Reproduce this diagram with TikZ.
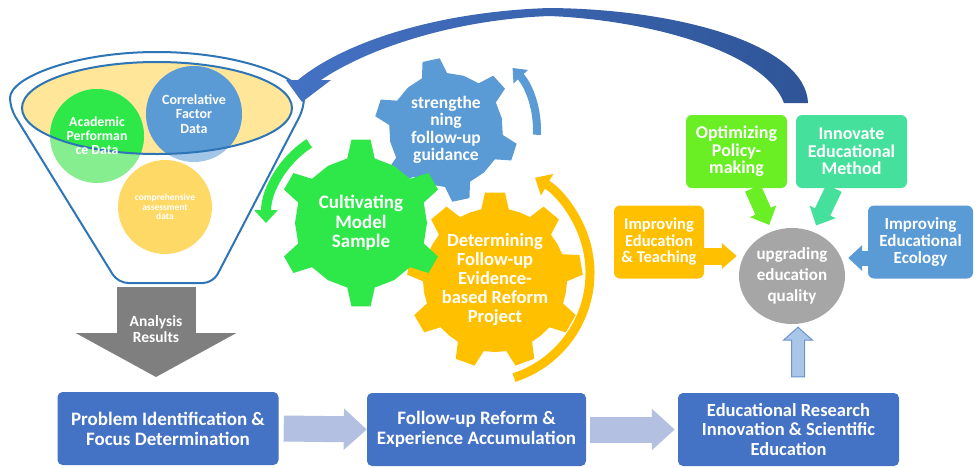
\documentclass[tikz,border=0pt]{standalone}
\usepackage{fontspec}
\setmainfont{Carlito}
\usepackage{xcolor}
\usepackage{tikz}
\usetikzlibrary{calc}
\usetikzlibrary{arrows.meta}
\usetikzlibrary{shapes.geometric}
\definecolor{boxblue}{HTML}{4472C4}
\definecolor{flowblue}{HTML}{B4C0E2}
\definecolor{darkblue}{HTML}{2F5597}
\definecolor{funnelline}{HTML}{2E75B6}
\definecolor{funnelfill}{HTML}{FFE699}
\definecolor{acadgreen}{HTML}{2EE84A}
\definecolor{acadlight}{HTML}{86EE8E}
\definecolor{corrblue}{HTML}{5B9BD5}
\definecolor{corrlight}{HTML}{A2C6E8}
\definecolor{compyellow}{HTML}{FFD966}
\definecolor{resultgray}{HTML}{7F7F7F}
\definecolor{gearblue}{HTML}{5B9BD5}
\definecolor{geargreen}{HTML}{2EE84A}
\definecolor{gearorange}{HTML}{FFC000}
\definecolor{policygreen}{HTML}{6AEE24}
\definecolor{methodteal}{HTML}{45E09B}
\definecolor{qualgray}{HTML}{A6A6A6}
\definecolor{upfill}{HTML}{A9C5E8}
\definecolor{upline}{HTML}{6F93C8}
\tikzset{>=Triangle}
\newcommand{\cog}[8]{%
  \fill[#1] ($(#2)+({#6-#7}:#4pt)$)
    \foreach \k in {1,...,#3}{
      -- ($(#2)+({#6+(\k-1)*360/#3-#7}:#4pt)$)
      -- ($(#2)+({#6+(\k-1)*360/#3-#8}:#5pt)$)
      -- ($(#2)+({#6+(\k-1)*360/#3+#8}:#5pt)$)
      -- ($(#2)+({#6+(\k-1)*360/#3+#7}:#4pt)$)
      -- ($(#2)+({#6+(\k-0.5)*360/#3}:#4pt)$)
    } -- cycle;}

\begin{document}
\begin{tikzpicture}[x=1pt,y=-1pt,
	every node/.style={text=white,align=center,inner sep=0pt},
	stepbox/.style={fill=boxblue,rounded corners=5pt,minimum width=221pt,minimum height=73pt,font=\fontsize{19}{20}\selectfont\bfseries},
	aimbox/.style={rounded corners=6pt,minimum height=73pt,font=\fontsize{18}{17.5}\selectfont\bfseries},
	geartext/.style={font=\fontsize{19}{19.5}\selectfont\bfseries},
	flow/.style={draw=flowblue,line width=26pt,-{Triangle[length=23pt,width=40pt]}},
	push/.style={line width=17pt,shorten >=7pt,-{Triangle[length=15pt,width=28pt]}}]
	\useasboundingbox (0,0) rectangle (977,467);

	\draw[funnelline,line width=2pt,fill=white,rounded corners=10pt] (10,108) arc[start angle=180,end angle=0,x radius=147pt,y radius=56pt] -- (213,283) -- (118,283) -- cycle;
	\fill[funnelfill] (157,108) ellipse[x radius=135pt,y radius=46pt];
	\node[circle,fill=acadlight,minimum size=94pt] (acad) at (97,136) {};
	\node[circle,fill=corrlight,minimum size=96pt] (corr) at (194,114) {};
	\node[circle,fill=compyellow,minimum size=94pt,font=\fontsize{9.5}{9.5}\selectfont\bfseries] (compre) at (165,207) {comprehensive\\assessment\\data};
	\begin{scope}
		\clip (157,108) ellipse[x radius=135pt,y radius=46pt];
		\fill[acadgreen] (acad) circle[radius=47pt];
		\fill[corrblue] (corr) circle[radius=48pt];
	\end{scope}
	\draw[funnelline,line width=2pt] (157,108) ellipse[x radius=135pt,y radius=46pt];
	\node[font=\fontsize{13.8}{14.2}\selectfont\bfseries] (acadtxt) at (acad) {Academic\\Performan\\ce Data};
	\node[font=\fontsize{14}{14.5}\selectfont\bfseries] (corrtxt) at (corr) {Correlative\\Factor\\Data};

	\coordinate (funnelbot) at (156,287);
	\coordinate (resultstip) at (156,377);
	\draw[resultgray,line width=79pt,-{Triangle[length=44pt,width=159pt]}] (funnelbot) -- (resultstip);
	\node[font=\fontsize{15.5}{16}\selectfont\bfseries] (results) at (156,329) {Analysis\\Results};

	\shade[left color=boxblue,right color=darkblue] (808,103) .. controls (806,45) and (680,9) .. (549,8) .. controls (430,12) and (340,45) .. (298,80) -- (286,80) -- (302,102) -- (331,80) -- (321,80) .. controls (365,50) and (450,20) .. (549,16) .. controls (650,20) and (765,52) .. (784,103) -- cycle;

	\coordinate (bluec) at (446,130);
	\coordinate (greenc) at (361,223);
	\coordinate (orangec) at (495,280);
	\coordinate (orbit) at (480,273);
	\cog{gearblue}{bluec}{6}{57}{72}{102}{13}{7}
	\cog{gearorange}{orangec}{9}{72}{88}{90}{11}{6.5}
	\cog{geargreen}{greenc}{6}{66}{84}{90}{12}{6.5}
	\draw[gearblue,line width=8pt,-{Triangle[length=12pt,width=19pt]}] ($(bluec)+(-3:91pt)$) arc[start angle=-3,end angle=43,radius=91pt];
	\draw[geargreen,line width=10pt,-{Triangle[length=13pt,width=23pt]}] ($(greenc)+(123:95pt)$) arc[start angle=123,end angle=180,radius=95pt];
	\draw[gearorange,line width=9pt,-{Triangle[length=14pt,width=24pt]}] ($(orbit)+(-72:110pt)$) arc[start angle=-72,end angle=60,radius=110pt];
	\node[geartext,font=\fontsize{17.5}{17.5}\selectfont\bfseries] (guidance) at (bluec) {strengthe\\ning\\follow-up\\guidance};
	\node[geartext] (cultivating) at (greenc) {Cultivating\\Model\\Sample};
	\node[geartext,font=\fontsize{18.5}{19}\selectfont\bfseries] (project) at (orangec) {Determining\\Follow-up\\Evidence-\\based Reform\\Project};

	\node[stepbox] (problem) at (168,428.5) {Problem Identification \&\\Focus Determination};
	\node[stepbox,minimum width=219pt] (reform) at (476.5,429.5) {Follow-up Reform \&\\Experience Accumulation};
	\node[stepbox,font=\fontsize{18.5}{19.5}\selectfont\bfseries] (research) at (788.5,429.5) {Educational Research\\Innovation \& Scientific\\Education};
	\draw[flow] ([xshift=5pt]problem.east) -- (reform.west);
	\draw[flow] ([xshift=4pt]reform.east) -- ([xshift=-3pt]research.west);

	\node[ellipse,fill=qualgray,minimum width=106pt,minimum height=96pt,font=\fontsize{17}{21}\selectfont\bfseries] (quality) at (792,276) {upgrading\\education\\quality};
	\node[aimbox,fill=gearorange,minimum width=90pt,font=\fontsize{16.5}{16.5}\selectfont\bfseries] (teaching) at (659,242) {Improving\\Education\\\& Teaching};
	\node[aimbox,fill=policygreen,minimum width=101pt] (policy) at (736.5,151.5) {Optimizing\\Policy-\\making};
	\node[aimbox,fill=methodteal,minimum width=111pt] (method) at (851.5,151.5) {Innovate\\Educational\\Method};
	\node[aimbox,fill=gearblue,minimum width=105pt,font=\fontsize{17}{17}\selectfont\bfseries] (ecology) at (920.5,242) {Improving\\Educational\\Ecology};
	\draw[push,policygreen] (policy) -- (quality);
	\draw[push,methodteal] (method) -- (quality);
	\draw[gearorange,line width=17pt,-{Triangle[length=15pt,width=25pt]}] ([yshift=-14pt]teaching.east) -- ([xshift=-2pt,yshift=20pt]quality.west);
	\draw[gearblue,line width=15pt,-{Triangle[length=14pt,width=25pt]}] ([yshift=-16pt]ecology.west) -- ([xshift=3pt,yshift=18pt]quality.east);

	\coordinate (uptip) at ([xshift=6pt,yshift=-3pt]quality.south);
	\coordinate (upbot) at ($(uptip |- research.north)+(0,-16)$);
	\filldraw[fill=upfill,draw=upline,line width=1pt] ($(upbot)+(-6.5,0)$) -- ($(uptip)+(-6.5,13)$) -- ($(uptip)+(-14.5,13)$) -- (uptip) -- ($(uptip)+(14.5,13)$) -- ($(uptip)+(6.5,13)$) -- ($(upbot)+(6.5,0)$) -- cycle;
\end{tikzpicture}
\end{document}
